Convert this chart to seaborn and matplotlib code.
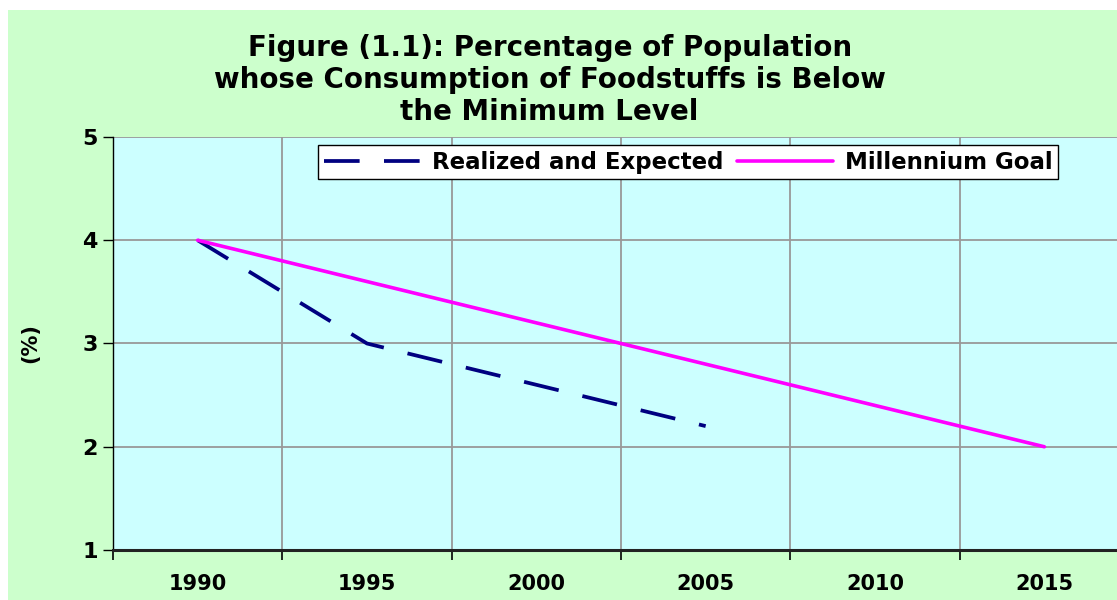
import numpy as np
import pandas as pd
import matplotlib
matplotlib.use("Agg")
import matplotlib.pyplot as plt
import seaborn as sns

# values
years = [1990, 1995, 2000, 2005, 2010, 2015]
realized_years = [1990, 1995, 2000, 2005]
realized = [4.0, 3.0, 2.6, 2.2]
goal = [4.0, 3.6, 3.2, 2.8, 2.4, 2.0]
title = "Figure (1.1): Percentage of Population\nwhose Consumption of Foodstuffs is Below\nthe Minimum Level"

sns.set_style("white")
plt.rcParams['font.family'] = ['DejaVu Sans']
plt.rcParams['text.color'] = 'black'
plt.rcParams['xtick.color'] = 'black'
plt.rcParams['ytick.color'] = 'black'
plt.rcParams['axes.labelcolor'] = 'black'

realized_df = pd.DataFrame({"year": realized_years, "value": realized})
goal_df = pd.DataFrame({"year": years, "value": goal})

fig = plt.figure(figsize=(11.17, 6.0), dpi=100, facecolor="white")
# green chart area (white margin at top and left like the reference)
fig.patches.append(plt.Rectangle((8 / 1117, 0), 1, 1 - 10 / 600, transform=fig.transFigure,
                                 facecolor="#CCFFCC", edgecolor="none", zorder=-10))

ax = fig.add_axes([113 / 1117, 1 - 550 / 600, 1016 / 1117, 413 / 600])
ax.set_facecolor("#CCFFFF")

sns.lineplot(data=realized_df, x="year", y="value", ax=ax, color="#000080", linewidth=2.7,
             label="Realized and Expected")
ax.lines[-1].set_dashes((9.5, 6.5))
sns.lineplot(data=goal_df, x="year", y="value", ax=ax, color="#FF00FF", linewidth=2.6,
             label="Millennium Goal")

ax.set_xlim(1987.5, 2017.5)
ax.set_ylim(1, 5)
ax.set_xticks(years)
ax.set_xticklabels([str(y) for y in years], fontsize=15, fontweight="bold")
ax.set_xticks(np.arange(1987.5, 2018, 5), minor=True)
ax.tick_params(axis="x", which="major", length=0, pad=17)
ax.tick_params(axis="x", which="minor", length=7, width=1.2, direction="out", color="black",
               bottom=True)
ax.set_yticks([1, 2, 3, 4, 5])
ax.set_yticklabels(["1", "2", "3", "4", "5"], fontsize=16, fontweight="bold")
ax.tick_params(axis="y", length=7, width=1, direction="out", color="black", left=True, pad=4)

ax.grid(True, axis="y", color="#999999", linewidth=1.3)
ax.grid(True, axis="x", which="minor", color="#999999", linewidth=1.3)
ax.grid(False, axis="x", which="major")

for s in ["top", "right"]:
    ax.spines[s].set_visible(False)
ax.spines["left"].set_color("black")
ax.spines["left"].set_linewidth(1)
ax.spines["bottom"].set_color("#222222")
ax.spines["bottom"].set_linewidth(2.2)

ax.set_xlabel("")
ax.set_ylabel("(%)", fontsize=15, fontweight="bold", labelpad=30)

leg = ax.legend(loc="upper left", bbox_to_anchor=(0.202, 0.981), ncol=2, frameon=True,
                fancybox=False, edgecolor="black", facecolor="white", framealpha=1,
                handlelength=4.2, handletextpad=0.5, columnspacing=0.6,
                borderpad=0.25, borderaxespad=0, prop={"size": 16.5, "weight": "bold"})
leg.get_frame().set_linewidth(1)

fig.text(0.492, 1 - 80 / 600, title, ha="center", va="center", fontsize=20,
         fontweight="bold", linespacing=1.18)

fig.savefig("out.png", dpi=100, facecolor="white")
